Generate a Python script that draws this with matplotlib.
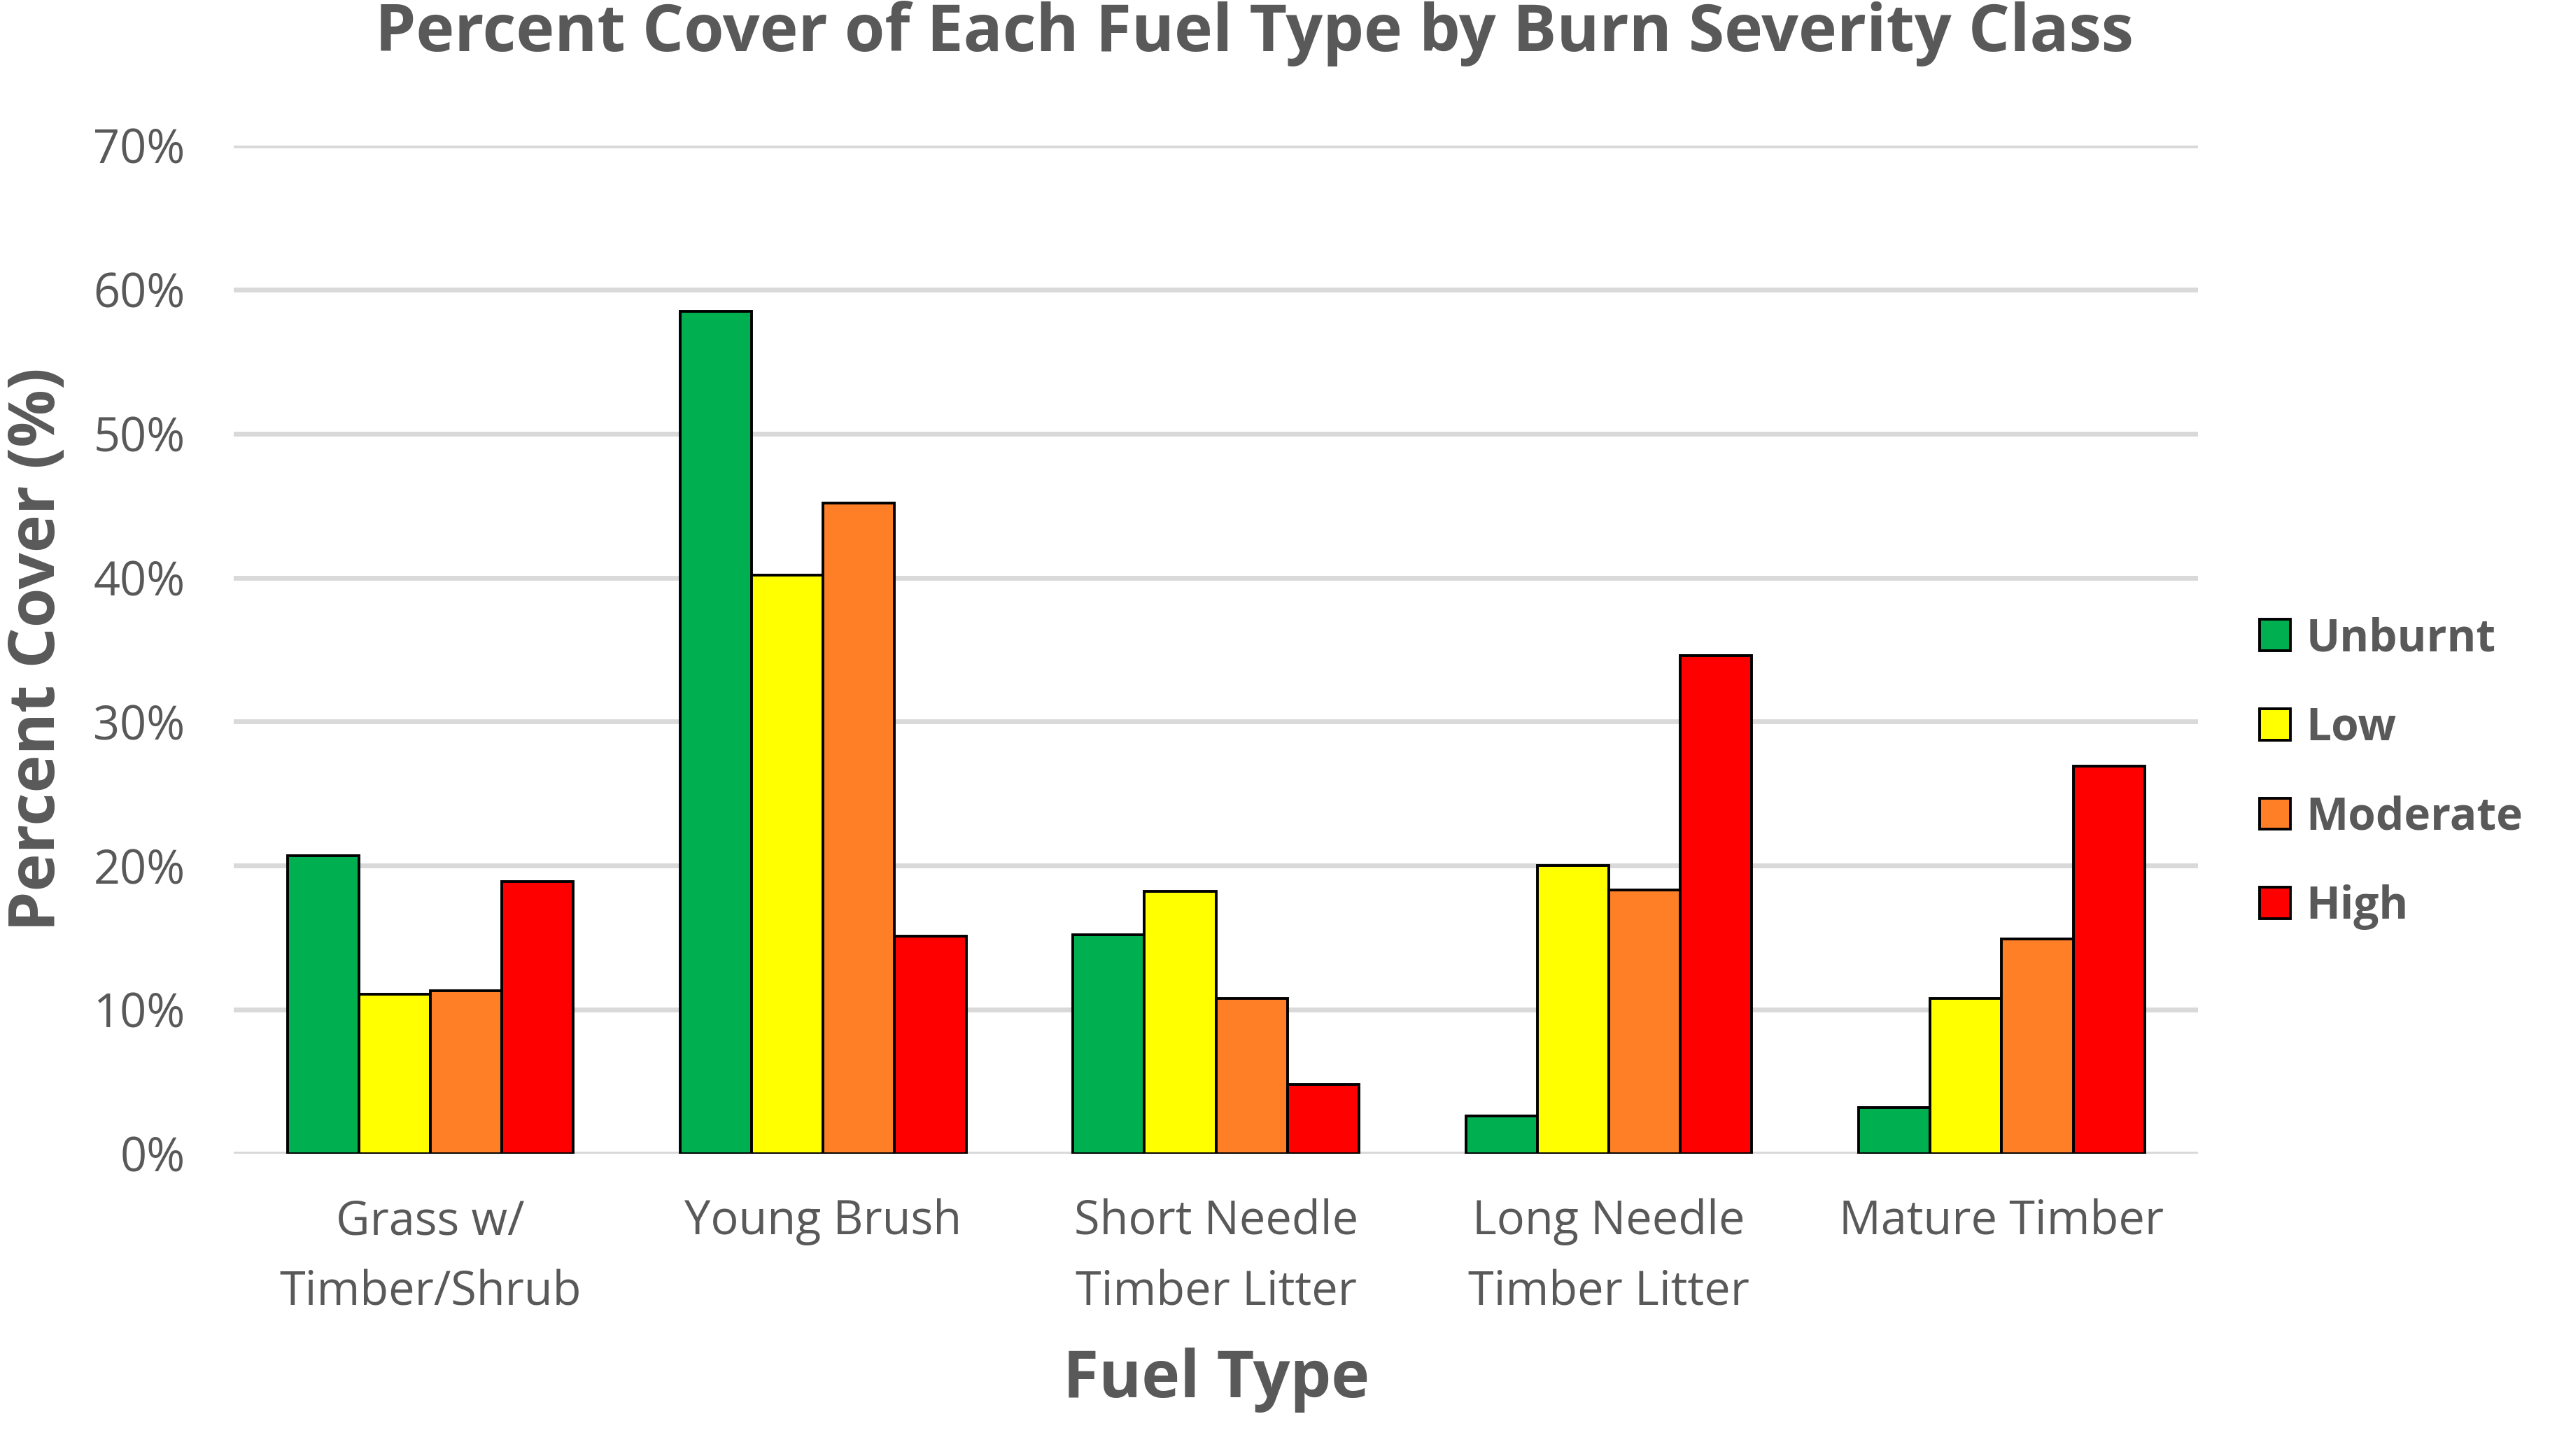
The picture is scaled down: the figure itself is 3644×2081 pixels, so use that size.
import matplotlib
matplotlib.use("Agg")
import matplotlib.pyplot as plt
import numpy as np
from matplotlib.patches import Patch
from matplotlib.ticker import FuncFormatter, MultipleLocator

categories = ["Grass w/\nTimber/Shrub", "Young Brush", "Short Needle\nTimber Litter",
              "Long Needle\nTimber Litter", "Mature Timber"]
series_names = ["Unburnt", "Low", "Moderate", "High"]
unburnt = [20.7, 58.5, 15.2, 2.6, 3.2]
low = [11.1, 40.2, 18.2, 20.0, 10.8]
moderate = [11.3, 45.2, 10.8, 18.3, 14.9]
high = [18.9, 15.1, 4.8, 34.6, 26.9]
colors = ["#00B050", "#FFFF00", "#FF7F27", "#FF0000"]

plt.rcParams['font.family'] = ['Open Sans', 'DejaVu Sans']
textc = "#595959"

fig = plt.figure(figsize=(36.44, 20.81), dpi=100)
ax = fig.add_axes([0.0917, 0.2076, 0.862 - 0.0917, 0.900 - 0.2076])

x = np.arange(len(categories))
w = 0.182
data = [unburnt, low, moderate, high]
for i, (vals, c) in enumerate(zip(data, colors)):
    ax.bar(x + (i - 1.5) * w, vals, width=w, color=c, edgecolor="black",
           linewidth=2.8, zorder=3)

ax.set_xlim(-0.5, len(categories) - 0.5)
ax.set_ylim(0, 70)
ax.yaxis.set_major_locator(MultipleLocator(10))
ax.yaxis.set_major_formatter(FuncFormatter(lambda v, p: f"{int(round(v))}%"))
ax.grid(axis="y", color="#d9d9d9", linewidth=5, zorder=0)
ax.set_axisbelow(True)
for s in ax.spines.values():
    s.set_visible(False)
ax.tick_params(axis="both", length=0, labelsize=48, labelcolor=textc)
ax.tick_params(axis="y", pad=50)
ax.tick_params(axis="x", pad=46)
ax.set_xticks(x)
ax.set_xticklabels(categories, linespacing=1.65)

ax.set_ylabel("Percent Cover (%)", fontsize=66, fontweight="bold", color=textc, labelpad=24)
ax.set_xlabel("Fuel Type", fontsize=67, fontweight="bold", color=textc, labelpad=32)

fig.text(0.492, 0.977, "Percent Cover of Each Fuel Type by Burn Severity Class",
         ha="center", va="center", fontsize=67, fontweight="bold", color=textc)

handles = [Patch(facecolor=c, edgecolor="black", linewidth=2.8, label=n)
           for c, n in zip(colors, series_names)]
leg = fig.legend(handles=handles, loc="center left", bbox_to_anchor=(0.886, 0.469),
                 frameon=False, prop={"size": 46, "weight": "bold"},
                 handlelength=0.7, handleheight=0.7, handletextpad=0.35,
                 labelspacing=0.98, borderpad=0, borderaxespad=0)
for t in leg.get_texts():
    t.set_color(textc)

fig.savefig("out.png", dpi=100, facecolor="white")
